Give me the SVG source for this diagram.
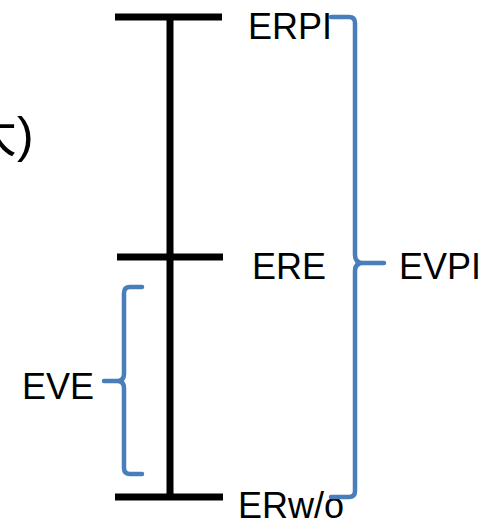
<svg xmlns="http://www.w3.org/2000/svg" width="487" height="519" viewBox="0 0 487 519">
<style>
.bar{stroke:#000;stroke-width:7;fill:none}
.brace{stroke:#4a7ebb;stroke-width:4.5;fill:none;stroke-linecap:round;stroke-linejoin:round}
text{font-family:"Liberation Sans","Noto Sans CJK SC",sans-serif;font-size:36px;fill:#000}
</style>
<rect width="487" height="519" fill="#fff"/>
<g id="axis">
<line class="bar" x1="170" y1="17" x2="170" y2="497"/>
<line class="bar" x1="115" y1="17" x2="222" y2="17"/>
<line class="bar" x1="117" y1="257" x2="223" y2="257"/>
<line class="bar" x1="115" y1="497" x2="223" y2="497"/>
</g>
<g id="labels">
<text x="248" y="39">ERPI</text>
<text x="252" y="279">ERE</text>
<text x="238" y="518">ERw/o</text>
<text x="-33" y="152" style="font-size:50px">大)</text>
</g>
<g id="connectors">
<path id="evpi-brace" class="brace" d="M331,17 H349 Q355,17 355,23 V255 Q355,263 363,263 H384 M363,263 Q355,263 355,271 V491 Q355,497 349,497 H331"/>
<path id="eve-brace" class="brace" d="M142,287 H130 Q124,287 124,293 V374 Q124,381 117,381 H104 M117,381 Q124,381 124,388 V468 Q124,474 130,474 H142"/>
</g>
<g id="evpi"><text x="399" y="279">EVPI</text></g>
<g id="eve"><text x="22" y="399">EVE</text></g>
</svg>
